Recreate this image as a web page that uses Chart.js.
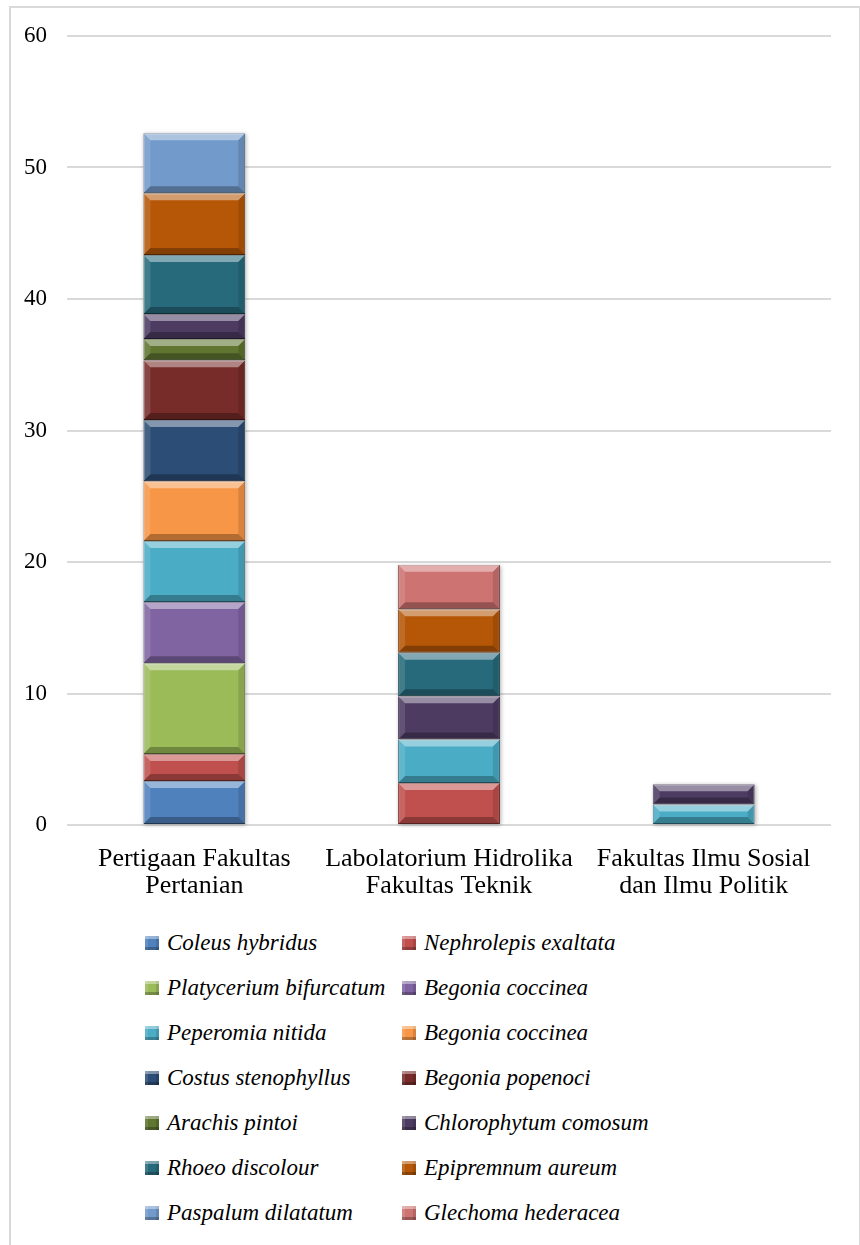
<!DOCTYPE html>
<html lang="id">
<head>
    <meta charset="UTF-8">
    <title>Jumlah tanaman per lokasi</title>
    <script src="https://cdn.jsdelivr.net/npm/chart.js"></script>
    <style>
body {
    margin: 0;
    background: #fff;
    width: 860px;
    height: 1245px;
    overflow: hidden;
    position: relative;
    font-family: "Liberation Serif", "Times New Roman", serif;
}
#frame {
    position: absolute;
    left: 9px;
    top: 6px;
    width: 848px;
    height: 1260px;
    border: 2px solid #d9d9d9;
    border-bottom: none;
}
#chartCanvas {
    position: absolute;
    left: 0;
    top: 0;
}
#legendBox {
    position: absolute;
    left: 145px;
    top: 920px;
    display: grid;
    grid-template-columns: 257px 260px;
    grid-auto-rows: 45px;
}
.legendItem {
    display: flex;
    align-items: center;
    font-style: italic;
    font-size: 23px;
    color: #000;
    white-space: nowrap;
}
.legendItem .mark {
    width: 14px;
    height: 14px;
    margin-right: 8px;
    box-sizing: border-box;
    flex: none;
    box-shadow: inset 0 3px 0 rgba(255,255,255,0.4), inset 0 -3px 0 rgba(0,0,0,0.25),
                inset 3px 0 0 rgba(255,255,255,0.12), inset -3px 0 0 rgba(0,0,0,0.12);
}
    </style>
</head>
<body>
    <div id="frame"></div>
    <canvas id="chartCanvas" width="860" height="900"></canvas>
    <div id="legendBox"></div>
    <script>
const locations = [
    ['Pertigaan Fakultas', 'Pertanian'],
    ['Labolatorium Hidrolika', 'Fakultas Teknik'],
    ['Fakultas Ilmu Sosial', 'dan Ilmu Politik']
];
const yTicks = [0, 10, 20, 30, 40, 50, 60];

// one array per species, values for the 3 locations
const coleusHybridus        = [3.35, null, null];
const nephrolepisExaltata   = [2.05, 3.2, null];
const platyceriumBifurcatum = [6.9, null, null];
const begoniaCoccinea1      = [4.65, null, null];
const peperomiaNitida       = [4.65, 3.3, 1.55];
const begoniaCoccinea2      = [4.55, null, null];
const costusStenophyllus    = [4.65, null, null];
const begoniaPopenoci       = [4.55, null, null];
const arachisPintoi         = [1.6, null, null];
const chlorophytumComosum   = [1.9, 3.3, 1.55];
const rhoeoDiscolour        = [4.5, 3.3, null];
const epipremnumAureum      = [4.7, 3.3, null];
const paspalumDilatatum     = [4.55, null, null];
const glechomaHederacea     = [null, 3.4, null];

const species = [
    ['Coleus hybridus', coleusHybridus, '#4f81bd'],
    ['Nephrolepis exaltata', nephrolepisExaltata, '#c0504d'],
    ['Platycerium bifurcatum', platyceriumBifurcatum, '#9bbb59'],
    ['Begonia coccinea', begoniaCoccinea1, '#8064a2'],
    ['Peperomia nitida', peperomiaNitida, '#4bacc6'],
    ['Begonia coccinea', begoniaCoccinea2, '#f79646'],
    ['Costus stenophyllus', costusStenophyllus, '#2c4d75'],
    ['Begonia popenoci', begoniaPopenoci, '#772c2a'],
    ['Arachis pintoi', arachisPintoi, '#5f7530'],
    ['Chlorophytum comosum', chlorophytumComosum, '#4d3b62'],
    ['Rhoeo discolour', rhoeoDiscolour, '#276a7c'],
    ['Epipremnum aureum', epipremnumAureum, '#b65708'],
    ['Paspalum dilatatum', paspalumDilatatum, '#729aca'],
    ['Glechoma hederacea', glechomaHederacea, '#cd7371']
];

function darker(hex, f) {
    const n = parseInt(hex.slice(1), 16);
    const r = Math.round(((n >> 16) & 255) * f);
    const g = Math.round(((n >> 8) & 255) * f);
    const b = Math.round((n & 255) * f);
    return `rgb(${r}, ${g}, ${b})`;
}

// fake the office bevel look on top of each bar piece
const bevelPlugin = {
    id: 'bevel',
    beforeDatasetsDraw(chart) {
        const ctx = chart.ctx;
        // soft shadow behind each full stack
        const stacks = {};
        chart.data.datasets.forEach((ds, i) => {
            chart.getDatasetMeta(i).data.forEach((el, j) => {
                if (ds.data[j] == null) return;
                const p = el.getProps(['x', 'y', 'base', 'width'], true);
                const s = stacks[j] || {l: p.x - p.width / 2, r: p.x + p.width / 2, t: Infinity, b: -Infinity};
                s.t = Math.min(s.t, p.y, p.base);
                s.b = Math.max(s.b, p.y, p.base);
                stacks[j] = s;
            });
        });
        ctx.save();
        ctx.shadowColor = 'rgba(0,0,0,0.3)';
        ctx.shadowBlur = 4;
        ctx.shadowOffsetX = 1;
        ctx.shadowOffsetY = 1;
        ctx.fillStyle = '#fff';
        Object.values(stacks).forEach(s => ctx.fillRect(s.l, s.t, s.r - s.l, s.b - s.t));
        ctx.restore();
    },
    afterDatasetsDraw(chart) {
        const ctx = chart.ctx;
        chart.data.datasets.forEach((ds, i) => {
            chart.getDatasetMeta(i).data.forEach((el, j) => {
                if (ds.data[j] == null) return;
                const p = el.getProps(['x', 'y', 'base', 'width'], true);
                const l = p.x - p.width / 2, r = p.x + p.width / 2;
                const t = Math.min(p.y, p.base), b = Math.max(p.y, p.base);
                const k = Math.min(7, (b - t) / 2.6);
                const poly = (pts, style) => {
                    ctx.beginPath();
                    ctx.moveTo(pts[0][0], pts[0][1]);
                    for (let n = 1; n < pts.length; n++) ctx.lineTo(pts[n][0], pts[n][1]);
                    ctx.closePath();
                    ctx.fillStyle = style;
                    ctx.fill();
                };
                ctx.save();
                poly([[l, t], [r, t], [r - k, t + k], [l + k, t + k]], 'rgba(255,255,255,0.42)');
                poly([[l, b], [r, b], [r - k, b - k], [l + k, b - k]], 'rgba(0,0,0,0.28)');
                poly([[l, t], [l + k, t + k], [l + k, b - k], [l, b]], 'rgba(255,255,255,0.12)');
                poly([[r, t], [r - k, t + k], [r - k, b - k], [r, b]], 'rgba(0,0,0,0.12)');
                ctx.restore();
            });
        });
    }
};

const chart = new Chart(document.getElementById('chartCanvas'), {
    type: 'bar',
    data: {
        labels: locations,
        datasets: species.map(s => ({
            label: s[0],
            data: s[1],
            backgroundColor: s[2],
            borderColor: darker(s[2], 0.6),
            borderWidth: 1,
            borderSkipped: false,
            categoryPercentage: 1,
            barPercentage: 0.4
        }))
    },
    options: {
        responsive: false,
        animation: false,
        devicePixelRatio: 1,
        layout: { padding: { left: 0, right: 29, top: 36, bottom: 0 } },
        plugins: {
            legend: { display: false },
            tooltip: { enabled: false }
        },
        scales: {
            x: {
                stacked: true,
                grid: { display: false, drawTicks: false },
                border: { display: false },
                ticks: {
                    color: '#000',
                    padding: 20,
                    maxRotation: 0,
                    autoSkip: false,
                    font: { family: '"Liberation Serif", serif', size: 26, lineHeight: 1.06 }
                },
                afterFit(scale) { scale.height = 75; }
            },
            y: {
                stacked: true,
                min: 0,
                max: 60,
                afterBuildTicks(scale) { scale.ticks = yTicks.map(v => ({value: v})); },
                grid: { color: '#d9d9d9', lineWidth: 2, drawTicks: false },
                border: { display: false },
                ticks: {
                    color: '#000',
                    padding: 20,
                    font: { family: '"Liberation Serif", serif', size: 23 }
                },
                afterFit(scale) { scale.width = 67; }
            }
        }
    },
    plugins: [bevelPlugin]
});

// legend in two columns, built from the chart's own datasets
const legendBox = document.getElementById('legendBox');
chart.data.datasets.forEach(ds => {
    const item = document.createElement('div');
    item.className = 'legendItem';
    item.innerHTML = `<span class="mark" style="background:${ds.backgroundColor}"></span><span>${ds.label}</span>`;
    legendBox.appendChild(item);
});
    </script>
</body>
</html>
